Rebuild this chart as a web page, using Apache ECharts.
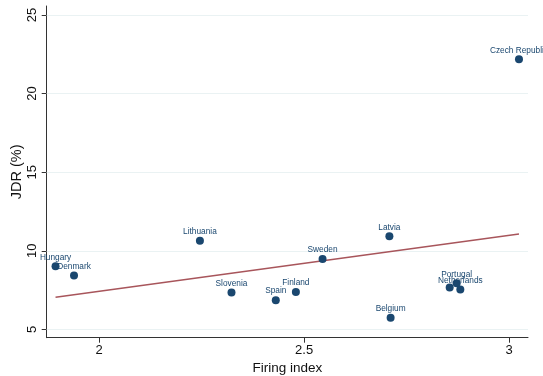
<!DOCTYPE html>
<html>
<head>
<meta charset="utf-8">
<script src="https://cdn.jsdelivr.net/npm/echarts@6/dist/echarts.min.js"></script>
<style>html,body{margin:0;padding:0;background:#fff}#c{width:543px;height:376px}</style>
</head>
<body>
<div id="c"></div>
<script>
const countries = ["Hungary","Denmark","Lithuania","Slovenia","Spain","Finland","Sweden","Latvia","Belgium","","Portugal","Netherlands","Czech Republic"];
const firingIndex = [1.894,1.939,2.246,2.323,2.431,2.480,2.545,2.708,2.711,2.855,2.872,2.881,3.024];
const jdr = [9.01,8.43,10.64,7.35,6.86,7.37,9.47,10.92,5.74,7.67,7.93,7.54,22.18];
const fitX = [1.894,3.024];
const fitY = [7.05,11.06];
const xTicks = [2,2.5,3];
const yTicks = [5,10,15,20,25];

const font = "Liberation Sans";
const chart = echarts.init(document.getElementById('c'), null, {renderer:'canvas'});
chart.setOption({
  animation:false,
  backgroundColor:'#ffffff',
  grid:{left:46.7,right:15,top:6,bottom:38.3,outerBoundsMode:'none',containLabel:false},
  xAxis:{
    type:'value', min:1.8724, max:3.046,
    name:'Firing index', nameLocation:'middle', nameGap:24, nameMoveOverlap:false,
    nameTextStyle:{fontFamily:font,fontSize:13.5,color:'#111'},
    axisLine:{show:true,lineStyle:{color:'#333',width:1}},
    axisTick:{show:true,length:5,customValues:xTicks,lineStyle:{color:'#333'}},
    axisLabel:{customValues:xTicks,fontFamily:font,fontSize:13,color:'#111',margin:6},
    splitLine:{show:false}
  },
  yAxis:{
    type:'value', min:4.47, max:25.57,
    name:'JDR (%)', nameLocation:'middle', nameGap:22, nameMoveOverlap:false,
    nameTextStyle:{fontFamily:font,fontSize:14.5,color:'#111'},
    axisLine:{show:true,lineStyle:{color:'#333',width:1}},
    axisTick:{show:true,length:5,customValues:yTicks,lineStyle:{color:'#333'}},
    axisLabel:{customValues:yTicks,rotate:90,fontFamily:font,fontSize:13,color:'#111',margin:8},
    splitLine:{show:false}
  },
  series:[
    {
      type:'line', data:fitX.map((x,i)=>[x,fitY[i]]), showSymbol:false, symbol:'none',
      lineStyle:{color:'#a8555b',width:1.5}, z:2,
      markLine:{silent:true,symbol:'none',label:{show:false},
        lineStyle:{color:'#eaf2f3',width:1,type:'solid'},
        data:yTicks.map(v=>({yAxis:v})), z:1}
    },
    {
      type:'scatter', symbolSize:8,
      itemStyle:{color:'#1a476f',opacity:1},
      data:firingIndex.map((x,i)=>({value:[x,jdr[i]],name:countries[i]})),
      label:{show:true,position:'top',distance:1,formatter:p=>p.name,
        fontFamily:font,fontSize:8.3,color:'#1a476f'},
      z:3
    }
  ]
});
</script>
</body>
</html>
